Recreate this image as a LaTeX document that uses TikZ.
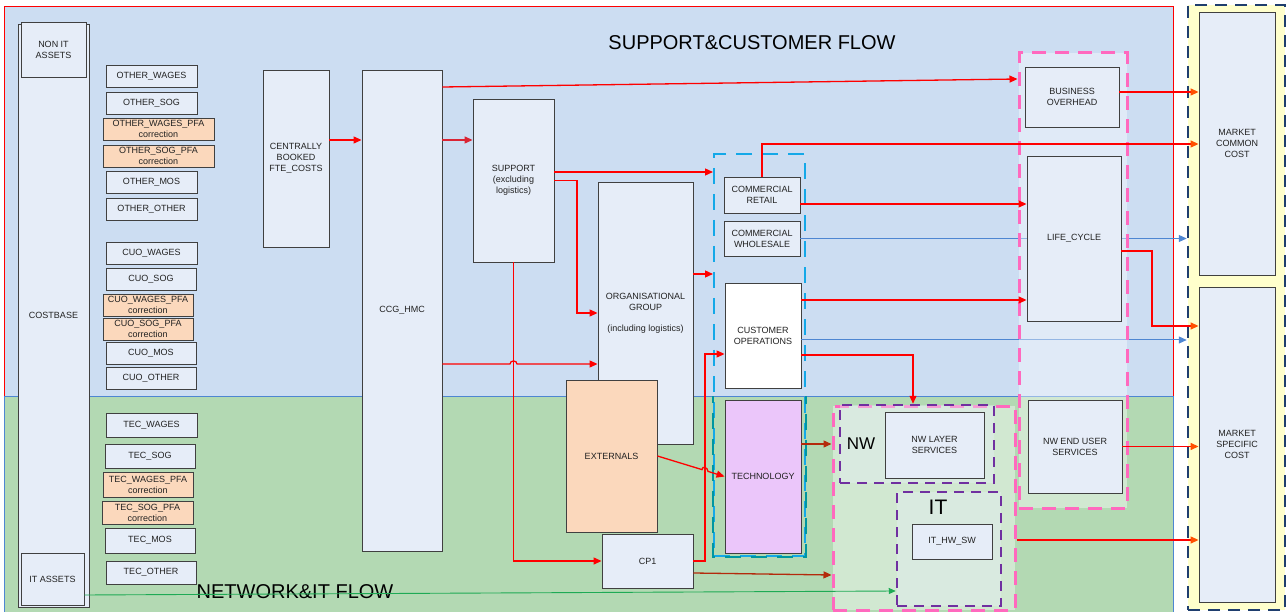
\documentclass[tikz,border=0pt]{standalone}
\usepackage{fontspec}
\setmainfont{Liberation Sans}
\usepackage{tikz}
\usetikzlibrary{arrows.meta}
\definecolor{bgblue}{RGB}{204,221,242}
\definecolor{bggreen}{RGB}{179,217,179}
\definecolor{bgyellow}{RGB}{255,255,204}
\definecolor{boxfill}{RGB}{230,237,248}
\definecolor{boxline}{RGB}{64,64,64}
\definecolor{pfafill}{RGB}{251,216,188}
\definecolor{techfill}{RGB}{235,198,250}
\definecolor{flowred}{RGB}{255,0,0}
\definecolor{supred}{RGB}{218,36,52}
\definecolor{darkred}{RGB}{180,42,12}
\definecolor{tipor}{RGB}{255,80,0}
\definecolor{flowblue}{RGB}{78,134,210}
\definecolor{flowgreen}{RGB}{30,170,85}
\definecolor{grppink}{RGB}{255,105,190}
\definecolor{grppurple}{RGB}{112,48,160}
\definecolor{grpcyan}{RGB}{20,168,232}
\definecolor{grpteal}{RGB}{0,150,160}
\definecolor{grpnavy}{RGB}{31,62,110}
\definecolor{txt}{RGB}{34,34,34}
\newcommand{\boxfont}{\fontsize{9}{11}\selectfont}

\tikzset{
  box/.style={draw=boxline, fill=boxfill, line width=0.9pt, text=txt, font=\boxfont, align=center, inner sep=1pt},
  sbox/.style={box, minimum width=91pt, minimum height=22pt},
  pbox/.style={box, fill=pfafill, minimum width=90pt, minimum height=22pt},
  pinkgrp/.style={draw=grppink, line width=3pt, dash pattern=on 14pt off 9pt, fill=white, fill opacity=0.4},
  purplegrp/.style={draw=grppurple, line width=2.5pt, dash pattern=on 10pt off 7pt, fill=boxfill, fill opacity=0.4},
  redarr/.style={draw=flowred, line width=1.3pt, -{Triangle[length=8pt, width=7pt]}},
  suparr/.style={draw=supred, line width=1.3pt, -{Triangle[length=8pt, width=7pt]}},
  orarr/.style={draw=flowred, line width=1.3pt, -{Triangle[length=8pt, width=7pt, color=tipor]}},
  brownarr/.style={draw=darkred, line width=1.3pt, -{Triangle[length=8pt, width=7pt]}},
  bluearr/.style={draw=flowblue, line width=1pt, -{Triangle[length=8pt, width=7pt]}},
  greenarr/.style={draw=flowgreen, line width=0.9pt, -{Triangle[length=7pt, width=6pt]}}
}

\begin{document}
\begin{tikzpicture}[x=1pt, y=-1pt]
    \useasboundingbox (0,0) rectangle (1288,612);
    \fill[white] (0,0) rectangle (1288,612);
    % flow areas
    \fill[bgblue] (4,6) rectangle (1173,396);
    \fill[bggreen] (4,396) rectangle (1173,614);
    \draw[flowred, line width=0.8pt] (4,396) -- (4,6) -- (1173,6) -- (1173,396);
    \draw[flowblue, line width=0.8pt] (4,614) -- (4,396) -- (1173,396) -- (1173,614);
    \node(supT)[font=\fontsize{20}{24}\selectfont] at (752,43) {SUPPORT\&CUSTOMER FLOW};
    \node(netT)[font=\fontsize{20}{24}\selectfont] at (295,592) {NETWORK\&IT FLOW};

    % market
    \node(mkt)[draw=grpnavy, fill=bgyellow, line width=2.5pt, dash pattern=on 12pt off 8pt, minimum width=97pt, minimum height=605pt] at (1236.5,307.5) {};

    % cost base
    \node(cb)[box, minimum width=71pt, minimum height=583pt] at (53.5,315.5) {COSTBASE};
    \node(nonit)[box, minimum width=65pt, minimum height=55pt] at (53.5,49.5) {NON IT\\ASSETS};
    \node(itas)[box, minimum width=63pt, minimum height=52pt] at (52.5,579) {IT ASSETS};

    \node(oWag)[sbox] at (151.5,76) {OTHER\_WAGES};
    \node(oSog)[sbox] at (151.5,103) {OTHER\_SOG};
    \node(oWagP)[pbox, minimum width=111pt] at (158.5,129) {OTHER\_WAGES\_PFA\\correction};
    \node(oSogP)[pbox, minimum width=111pt] at (158.5,156) {OTHER\_SOG\_PFA\\correction};
    \node(oMos)[sbox] at (151.5,182.5) {OTHER\_MOS};
    \node(oOth)[sbox] at (151.5,209.5) {OTHER\_OTHER};
    \node(cWag)[sbox] at (151.5,253) {CUO\_WAGES};
    \node(cSog)[sbox, minimum width=90pt] at (151,279) {CUO\_SOG};
    \node(cWagP)[pbox] at (148,305) {CUO\_WAGES\_PFA\\correction};
    \node(cSogP)[pbox] at (148,329) {CUO\_SOG\_PFA\\correction};
    \node(cMos)[sbox, minimum width=90pt] at (151,353) {CUO\_MOS};
    \node(cOth)[sbox, minimum width=90pt] at (151,378) {CUO\_OTHER};
    \node(tWag)[sbox, minimum height=24pt] at (151.5,425) {TEC\_WAGES};
    \node(tSog)[sbox, minimum width=90pt, minimum height=24pt] at (150,456) {TEC\_SOG};
    \node(tWagP)[pbox, minimum height=25pt] at (148,484.5) {TEC\_WAGES\_PFA\\correction};
    \node(tSogP)[pbox, minimum width=91pt, minimum height=23pt] at (147.5,512.5) {TEC\_SOG\_PFA\\correction};
    \node(tMos)[sbox, minimum width=90pt, minimum height=25pt] at (150,540.5) {TEC\_MOS};
    \node(tOth)[sbox, minimum width=90pt, minimum height=23pt] at (151,572.5) {TEC\_OTHER};

    % allocation steps
    \node(cent)[box, minimum width=66pt, minimum height=177pt] at (296,158.5) {CENTRALLY\\BOOKED\\FTE\_COSTS};
    \node(ccg)[box, minimum width=80pt, minimum height=481pt] at (402,310.5) {CCG\_HMC};
    \node(sup)[box, minimum width=81pt, minimum height=163pt] at (513.5,180.5) {SUPPORT\\(excluding\\logistics)};
    \node(org)[box, minimum width=95pt, minimum height=262pt] at (645.5,313) {ORGANISATIONAL\\GROUP\\[10pt](including logistics)};
    \node(ext)[box, fill=pfafill, minimum width=91pt, minimum height=152pt] at (611.5,456) {EXTERNALS};
    \node(cp)[box, minimum width=91pt, minimum height=54pt] at (647.5,561) {CP1};

    % commercial group
    \node(comm)[draw=grpcyan, line width=2pt, dash pattern=on 16pt off 10pt, minimum width=91pt, minimum height=402pt] at (759.5,355) {};
    \begin{scope}
        \clip (700,396) rectangle (820,612);
        \draw[grpteal, line width=2pt, dash pattern=on 16pt off 10pt] (comm.north west) rectangle (comm.south east);
    \end{scope}
    \node(ret)[box, minimum width=76pt, minimum height=36pt] at (762,195) {COMMERCIAL\\RETAIL};
    \node(whs)[box, minimum width=76pt, minimum height=35pt] at (762,238.5) {COMMERCIAL\\WHOLESALE};
    \node(cus)[box, fill=white, minimum width=76pt, minimum height=105pt] at (763,335.5) {CUSTOMER\\OPERATIONS};
    \node(tech)[box, fill=techfill, minimum width=76pt, minimum height=153pt] at (763,476.5) {TECHNOLOGY};

    \draw[bluearr] (whs.east) -- (mkt.west |- whs.east);
    \draw[bluearr] (cus.east |- 0,340) -- (mkt.west |- 0,340);

    % right column
    \node(pinkR)[pinkgrp, minimum width=108pt, minimum height=455pt] at (1073,280.5) {};
    \node(biz)[box, minimum width=94pt, minimum height=60pt] at (1072,97) {BUSINESS\\OVERHEAD};
    \node(life)[box, minimum width=94pt, minimum height=165pt] at (1074,238.5) {LIFE\_CYCLE};
    \node(nweu)[box, minimum width=94pt, minimum height=93pt] at (1075,446.5) {NW END USER\\SERVICES};
    \node(mcc)[box, minimum width=76pt, minimum height=263pt] at (1237,143.5) {MARKET\\COMMON\\COST};
    \node(msc)[box, minimum width=76pt, minimum height=315pt] at (1237,444.5) {MARKET\\SPECIFIC\\COST};

    % network and IT
    \node(nwit)[pinkgrp, minimum width=182pt, minimum height=204pt] at (924,508) {};
    \node(nwgrp)[purplegrp, minimum width=154pt, minimum height=78pt] at (917,444) {};
    \node(itgrp)[purplegrp, minimum width=104pt, minimum height=114pt] at (949,549) {};
    \node(nwL)[font=\fontsize{17}{20}\selectfont] at (861,444) {NW};
    \node(itL)[font=\fontsize{21}{24}\selectfont] at (938,507) {IT};
    \node(nwl)[box, minimum width=99pt, minimum height=66pt] at (934.5,445) {NW LAYER\\SERVICES};
    \node(ithw)[box, minimum width=80pt, minimum height=35pt] at (952,541.5) {IT\_HW\_SW};

    % flows
    \draw[redarr] (cent.east |- 0,140) -- (ccg.west |- 0,140);
    \draw[redarr] (ccg.east |- 0,87) -- (pinkR.west |- 0,79);
    \draw[suparr] (ccg.east |- 0,140) -- (sup.west |- 0,140);
    \draw[redarr] (sup.south) |- (cp.west);
    \draw[redarr] (ccg.east |- 0,364) -- (510,364) .. controls (510,360) and (517,360) .. (517,364) -- (org.west |- 0,364);
    \draw[redarr] (sup.east |- 0,172) -- (comm.west |- 0,172);
    \draw[redarr] (sup.east) -| (577,313) -- (org.west |- 0,313);
    \draw[redarr] (org.east |- 0,274) -- (comm.west |- 0,274);
    \draw[redarr] (cp.east) -| (705,354) -- (cus.west |- 0,354);
    \draw[redarr] (ext.east) -- (702,469.6) .. controls (702,465.6) and (708,467.4) .. (708,471.4) -- (tech.west);
    \draw[brownarr] (cp.east |- 0,573) -- (nwit.west |- 0,575);
    \draw[brownarr] (tech.east |- 0,444) -- (nwit.west |- 0,444);
    \draw[orarr] (ret.north) |- (mcc.west |- 0,144);
    \draw[redarr] (ret.east |- 0,204) -- (life.west |- 0,204);
    \draw[redarr] (cus.east |- 0,300) -- (life.west |- 0,300);
    \draw[redarr] (cus.east |- 0,355) -| (nwgrp.north -| 913,0);
    \draw[orarr] (biz.east |- 0,92) -- (mcc.west |- 0,92);
    \draw[orarr] (life.east |- 0,251) -| (1152,326) -- (msc.west |- 0,326);
    \draw[orarr] (nweu.east) -- (msc.west |- nweu.east);
    \draw[orarr] (nwit.east |- 0,540) -- (msc.west |- 0,540);
    \draw[greenarr] (itas.east |- 0,595) -- (itgrp.west |- 0,591);
\end{tikzpicture}
\end{document}
